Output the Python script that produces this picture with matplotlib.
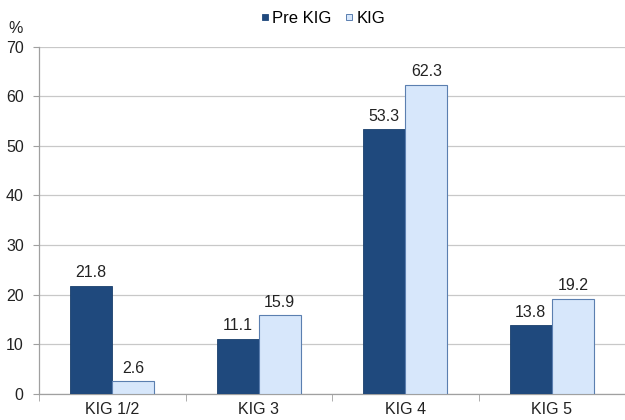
import matplotlib
matplotlib.use("Agg")
import matplotlib.pyplot as plt
import numpy as np
from matplotlib.lines import Line2D

plt.rcParams['font.family'] = ['Liberation Sans', 'DejaVu Sans']

categories = ["KIG 1/2", "KIG 3", "KIG 4", "KIG 5"]
pre_kig = [21.8, 11.1, 53.3, 13.8]
kig = [2.6, 15.9, 62.3, 19.2]
series_names = ["Pre KIG", "KIG"]

dark = "#1f497d"
light = "#d7e7fb"
light_edge = "#5b7fb0"

fig = plt.figure(figsize=(6.25, 4.2), dpi=100)
ax = fig.add_axes([0.0624, 0.062, 0.9376, 0.827])

x = np.arange(len(categories))
w = 0.287
ax.bar(x - w / 2, pre_kig, w, color=dark, edgecolor="#1a3f6c", linewidth=0.6, zorder=3)
ax.bar(x + w / 2, kig, w, color=light, edgecolor=light_edge, linewidth=0.8, zorder=3)

for xi, v in zip(x - w / 2, pre_kig):
    ax.annotate(f"{v:.1f}", (xi, v), xytext=(0, 4), textcoords="offset points",
                ha="center", va="bottom", fontsize=11.5, color="#222222")
for xi, v in zip(x + w / 2, kig):
    ax.annotate(f"{v:.1f}", (xi, v), xytext=(0, 4), textcoords="offset points",
                ha="center", va="bottom", fontsize=11.5, color="#222222")

ax.set_xlim(-0.5, len(categories) - 0.5)
ax.set_ylim(0, 70)
ax.set_yticks(range(0, 71, 10))
ax.yaxis.grid(True, color="#c8c8c8", linewidth=0.9, zorder=0)
ax.set_axisbelow(True)

ax.set_xticks(x)
ax.set_xticklabels(categories)
ax.set_xticks(np.arange(-0.5, len(categories), 1), minor=True)
ax.tick_params(axis="x", which="major", length=0, pad=6, labelsize=11.5, colors="#222222")
ax.tick_params(axis="x", which="minor", length=5, color="#a0a0a0", direction="out")
ax.tick_params(axis="y", length=4, color="#a0a0a0", labelsize=11.5, colors="#222222", pad=7)

for s in ["top", "right"]:
    ax.spines[s].set_visible(False)
for s in ["left", "bottom"]:
    ax.spines[s].set_color("#a0a0a0")
    ax.spines[s].set_linewidth(0.9)

fig.text(0.013, 0.932, "%", fontsize=11.5, color="#222222", ha="left", va="center")

handles = [Line2D([], [], linestyle="none", marker="s", markersize=5,
                  markerfacecolor=dark, markeredgecolor=dark, markeredgewidth=0.6),
           Line2D([], [], linestyle="none", marker="s", markersize=5,
                  markerfacecolor=light, markeredgecolor=light_edge, markeredgewidth=0.7)]
fig.legend(handles, series_names, loc="center", bbox_to_anchor=(0.517, 0.957), ncol=2,
           frameon=False, fontsize=12, handlelength=0.5,
           handletextpad=0.2, columnspacing=0.8)

fig.savefig("out.png", dpi=100)
